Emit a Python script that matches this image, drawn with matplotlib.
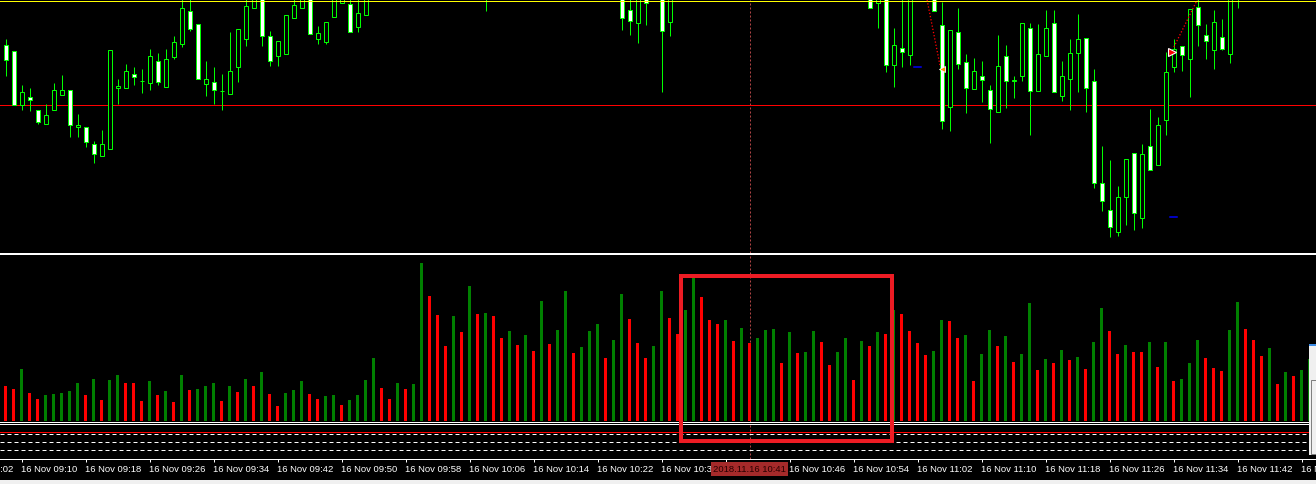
import matplotlib
matplotlib.use("Agg")
import matplotlib.pyplot as plt
import matplotlib.transforms as mtransforms
from matplotlib.patches import Rectangle
import pandas as pd

# 1-minute bars, prices in points above 1.13000
opens = [411, 399, 291, 307, 281, 253, 281, 311, 321, 247,
         247, 213, 189, 203, 325, 325, 353, 338, 335, 379,
         327, 387, 413, 479, 453, 333, 337, 318, 313, 367,
         423, 485, 510, 428, 389, 393, 465, 485, 510, 423,
         417, 467, 495, 493, 447, 471, 530, 541, 552, 545,
         566, 556, 564, 590, 570, 561, 548, 570, 558, 586,
         566, 530, 548, 536, 553, 544, 558, 552, 575, 561,
         570, 592, 584, 593, 604, 600, 588, 553, 480, 455,
         525, 505, 530, 457, 520, 540, 551, 584, 566, 555,
         545, 561, 552, 565, 556, 569, 579, 588, 578, 590,
         582, 586, 595, 582, 570, 575, 579, 552, 535, 495,
         520, 371, 405, 391, 520, 530, 525, 451, 287, 437,
         377, 323, 349, 321, 277, 389, 339, 349, 445, 319,
         389, 455, 309, 343, 395, 425, 339, 135, 81, 37,
         107, 195, 65, 209, 171, 261, 367, 409, 383, 487,
         431, 401, 427, 393, 525, 535, 550, 545, 556, 570,
         552, 561, 551, 566]
highs = [422, 399, 330, 324, 281, 292, 334, 350, 321, 272,
         247, 219, 240, 401, 342, 372, 366, 362, 402, 394,
         402, 428, 504, 510, 453, 378, 366, 352, 436, 443,
         510, 515, 515, 438, 418, 471, 510, 515, 515, 448,
         457, 530, 525, 520, 510, 540, 548, 560, 563, 571,
         574, 570, 598, 596, 582, 567, 575, 577, 590, 590,
         570, 552, 556, 558, 560, 562, 566, 580, 580, 575,
         596, 598, 597, 608, 615, 604, 592, 558, 515, 530,
         535, 540, 540, 530, 545, 556, 590, 590, 575, 562,
         566, 568, 570, 572, 573, 584, 593, 592, 594, 596,
         590, 600, 599, 586, 580, 584, 583, 558, 545, 525,
         530, 445, 506, 530, 540, 545, 535, 497, 441, 485,
         393, 385, 378, 331, 430, 410, 349, 455, 455, 453,
         481, 480, 378, 423, 473, 425, 363, 208, 181, 129,
         183, 195, 213, 282, 266, 397, 423, 409, 483, 504,
         452, 481, 462, 530, 545, 556, 562, 560, 575, 574,
         566, 568, 570, 572]
lows = [348, 290, 280, 279, 252, 253, 281, 311, 227, 227,
        207, 175, 189, 203, 292, 325, 330, 314, 321, 330,
        327, 383, 407, 439, 343, 309, 293, 281, 313, 337,
        409, 485, 409, 369, 369, 393, 465, 485, 433, 413,
        413, 467, 495, 437, 437, 471, 522, 536, 540, 542,
        551, 549, 560, 562, 555, 540, 545, 552, 554, 561,
        478, 521, 530, 532, 540, 538, 548, 549, 556, 555,
        566, 580, 580, 589, 596, 584, 548, 440, 430, 414,
        450, 503, 317, 429, 512, 528, 547, 560, 550, 538,
        541, 548, 549, 550, 552, 565, 575, 574, 575, 578,
        576, 582, 578, 566, 563, 568, 548, 530, 485, 444,
        357, 327, 367, 371, 502, 505, 479, 243, 239, 363,
        275, 323, 297, 215, 277, 285, 305, 339, 230, 319,
        389, 317, 299, 280, 316, 277, 125, 79, 27, 29,
        51, 41, 45, 161, 171, 231, 357, 359, 307, 409,
        383, 363, 401, 375, 485, 528, 540, 536, 550, 548,
        546, 547, 548, 552]
closes = [381, 290, 317, 301, 257, 271, 321, 321, 251, 251,
          217, 193, 213, 401, 329, 359, 347, 338, 389, 337,
          383, 417, 485, 443, 343, 342, 321, 318, 359, 443,
          489, 510, 429, 379, 418, 471, 490, 510, 433, 434,
          457, 520, 515, 437, 475, 530, 541, 552, 545, 566,
          556, 564, 590, 570, 561, 548, 570, 558, 586, 566,
          530, 548, 536, 553, 544, 558, 552, 575, 561, 570,
          592, 584, 593, 604, 600, 588, 553, 465, 459, 520,
          495, 530, 439, 520, 540, 551, 584, 566, 555, 545,
          561, 552, 565, 556, 569, 579, 588, 578, 590, 582,
          586, 595, 582, 570, 575, 579, 552, 535, 485, 515,
          371, 411, 397, 520, 530, 525, 479, 259, 441, 373,
          325, 359, 341, 283, 369, 339, 339, 455, 319, 393,
          445, 317, 349, 395, 423, 325, 135, 99, 47, 107,
          183, 75, 193, 161, 251, 357, 403, 391, 483, 451,
          419, 457, 403, 515, 535, 550, 545, 556, 570, 552,
          561, 551, 566, 558]

volumes = [35, 32, 52, 28, 22, 26, 27, 28, 30, 38,
           26, 42, 21, 41, 46, 38, 38, 20, 40, 26,
           30, 19, 46, 31, 32, 35, 38, 20, 35, 29,
           42, 35, 49, 27, 15, 28, 31, 40, 27, 22,
           25, 26, 16, 21, 26, 41, 63, 33, 22, 38,
           32, 37, 158, 125, 106, 75, 105, 89, 135, 107,
           108, 105, 83, 90, 76, 86, 70, 120, 77, 91,
           130, 68, 74, 90, 97, 63, 81, 127, 102, 78,
           63, 75, 130, 103, 87, 111, 143, 124, 101, 97,
           101, 80, 93, 78, 83, 91, 92, 58, 89, 68,
           69, 90, 79, 56, 69, 83, 41, 80, 75, 89,
           87, 111, 107, 90, 78, 66, 70, 101, 100, 83,
           86, 40, 67, 91, 75, 85, 59, 67, 118, 51,
           62, 58, 71, 61, 64, 52, 79, 113, 90, 67,
           76, 69, 69, 79, 54, 79, 40, 42, 58, 81,
           63, 53, 50, 91, 119, 92, 81, 65, 73, 37,
           49, 45, 51, 62]
vol_dirs = ("RRGRRGGGGG" "RGRGGRRRGR" "GRGRGGGRGR" "GRGRRGGGRR"
            "GGRGGGGRRG" "RGGRRRGRGR" "GRRGRGRGRG" "GRGGGRGGRR"
            "RGGRRGGRRR" "GRGRGGGRGR" "GGRRGGRGRG" "RGRRRRGGRR"
            "GRGGRGRGGR" "GRGRGRGGRR" "GRRGRGRGGG" "RRRGGRRRGR" "GRGG")

start_time = "2018-11-16 09:08"
cursor_bar = 93
price_lines = {"yellow": 497.4, "red": 289.4}
levels_solid = [26.7]
levels_dashed = [25.0, 17.0, 8.7]
trade_lines = [((115.2, 500), (116.8, 370)), ((146.05, 406), (148.96, 500))]
blue_marks = [(114.0, 367), (146.0, 66)]
highlight_bars = (84.45, 110.75)
highlight_vol = (-20, 145.5)

W, H, DPI = 1316, 484, 100
PX = 72.0 / DPI
LIME = "#00ff00"

plt.rcParams['font.family'] = ['Liberation Sans', 'DejaVu Sans']

fig = plt.figure(figsize=(W / DPI, H / DPI), dpi=DPI, facecolor="black")


def rect(top, bottom):
    return [0, 1 - bottom / H, 1, (bottom - top) / H]


xlim = (-5.5 / 8, (W - 5.5) / 8)
idx = list(range(len(opens)))

ax = fig.add_axes(rect(0, 252.7), facecolor="black")
ax_vol = fig.add_axes(rect(254.3, 422), facecolor="black")
ax_lvl = fig.add_axes(rect(423.7, 459), facecolor="black")
ax_vol.set_zorder(3)  # highlight box reaches into the lower window

for a in (ax, ax_vol, ax_lvl):
    a.set_xlim(*xlim)
    a.set_yticks([])
    for s in ("left", "right"):
        a.spines[s].set_visible(False)
    for s in ("top", "bottom"):
        a.spines[s].set_color("white")
        a.spines[s].set_linewidth(PX)
    a.axvline(cursor_bar, color="#b04444", lw=PX, dashes=(2, 2), zorder=1)
ax.spines["top"].set_visible(False)

# candles
ax.set_ylim(-5.4, 500)
ax.set_xticks([])
ax.vlines(idx, lows, highs, color=LIME, lw=PX, zorder=2)
bottoms = [min(o, c) for o, c in zip(opens, closes)]
heights = [max(abs(c - o), 0.8) for o, c in zip(opens, closes)]
fills = ["white" if c < o else "black" for o, c in zip(opens, closes)]
ax.bar(idx, heights, bottom=bottoms, width=0.5, color=fills,
       edgecolor=LIME, linewidth=PX, zorder=3)
ax.axhline(price_lines["yellow"], color="#ffff00", lw=PX, zorder=4)
ax.axhline(price_lines["red"], color="#ff0000", lw=PX, zorder=1)
for (x0, y0), (x1, y1) in trade_lines:
    ax.plot([x0, x1], [y0, y1], color="#ff0000", lw=PX * 1.3, dashes=(1, 1.5), zorder=5)
for bx, by in blue_marks:
    ax.plot([bx - 0.45, bx + 0.45], [by, by], color="#0000ff", lw=PX * 1.5, zorder=5)
ax.plot(117.1, 362, marker="<", ms=5, color="#ff9900", mec="white", mew=0.6, zorder=6)
ax.plot(145.75, 396, marker=">", ms=6, color="#ff0000", mec="white", mew=0.8, zorder=6)

# volume histogram
ax_vol.set_ylim(-1, 166.7)
ax_vol.set_xticks([])
vol_colors = ["#ff0000" if d == "R" else "#008000" for d in vol_dirs]
ax_vol.bar(idx, volumes, width=3 / 8, color=vol_colors, linewidth=0)
ax_vol.add_patch(Rectangle((highlight_bars[0], highlight_vol[0]),
                           highlight_bars[1] - highlight_bars[0],
                           highlight_vol[1] - highlight_vol[0],
                           fill=False, ec="#ed1c24", lw=4 * PX,
                           clip_on=False, zorder=10))

# lower indicator window with levels
ax_lvl.set_ylim(0, 35.3)
for lv in levels_solid:
    ax_lvl.axhline(lv, color="#ff0000", lw=PX)
for lv in levels_dashed:
    ax_lvl.axhline(lv, color="white", lw=PX, dashes=(4, 3))

t0 = pd.Timestamp(start_time)
tick_bars = list(range(2, len(opens), 8))
ax_lvl.set_xticks(tick_bars)
ax_lvl.tick_params(axis="x", colors="white", length=3 * PX, width=PX,
                   direction="out", labelbottom=False)
trans = mtransforms.blended_transform_factory(ax_lvl.transData, ax_lvl.transAxes)
label_y = -10 / 35.3
for b in range(-6, len(opens) + 6, 8):
    if abs(b - cursor_bar) < 5:
        continue  # fully hidden behind the cursor time label
    t = t0 + pd.Timedelta(minutes=b)
    ax_lvl.text(b - 0.1, label_y, t.strftime("%d %b %H:%M"), transform=trans,
                color="white", fontsize=6.8, ha="left", va="center", clip_on=False)
ct = t0 + pd.Timedelta(minutes=cursor_bar)
ax_lvl.text(cursor_bar, label_y, ct.strftime("%Y.%m.%d %H:%M"), transform=trans,
            color="#2a0000", fontsize=6.8, ha="center", va="center", clip_on=False,
            zorder=20, bbox=dict(boxstyle="square,pad=0.25", fc="#a52a2a", ec="none"))

# window chrome at the right edge and bottom
fig.add_artist(Rectangle((1309 / W, 1 - 455 / H), 7 / W, 111 / H, transform=fig.transFigure,
                         fc="#f0f0f0", ec="none", zorder=30))
fig.add_artist(Rectangle((1309 / W, 1 - 346 / H), 7 / W, 2 / H, transform=fig.transFigure,
                         fc="#3c8ce6", ec="none", zorder=31))
fig.add_artist(Rectangle((1310.5 / W, 1 - 454 / H), 6 / W, 74 / H, transform=fig.transFigure,
                         fill=False, ec="#808080", lw=PX, zorder=31))
fig.add_artist(Rectangle((0, 0), 1, 4.5 / H, transform=fig.transFigure,
                         fc="#f0f0f0", ec="none", zorder=30))

fig.savefig("out.png", dpi=DPI, facecolor="black")
